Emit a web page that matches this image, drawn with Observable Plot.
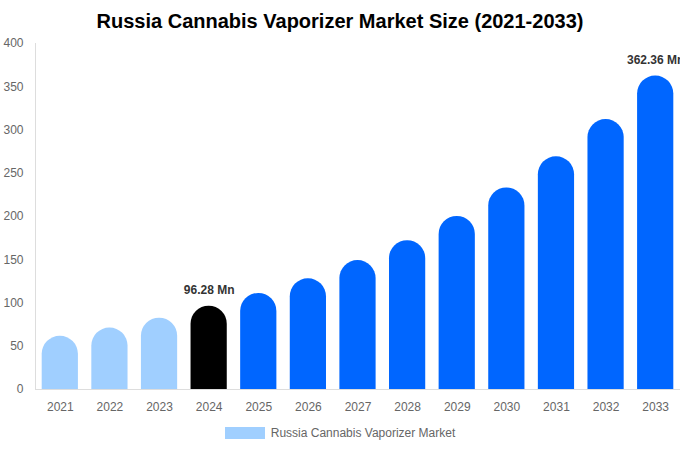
<!DOCTYPE html>
<html>
<head>
<meta charset="utf-8">
<script src="https://cdn.jsdelivr.net/npm/d3@7"></script>
<script src="https://cdn.jsdelivr.net/npm/@observablehq/plot@0.6"></script>
<style>
  html, body { margin: 0; padding: 0; background: #fff; font-family: "Liberation Sans", Arial, sans-serif; }
  #title { width: 680px; height: 30px; padding-top: 6px; line-height: 30px; text-align: center; font-size: 20px; font-weight: bold; color: #000; }
  #chart svg { display: block; overflow: visible; }
  #legend { width: 680px; height: 14px; display: flex; justify-content: center; align-items: center; font-size: 12px; color: #666; }
  #legend .sw { width: 40px; height: 12px; background: #a0cfff; margin-right: 6px; }
</style>
</head>
<body>
<div id="title">Russia Cannabis Vaporizer Market Size (2021-2033)</div>
<div id="chart"></div>
<div id="legend"><span class="sw"></span><span>Russia Cannabis Vaporizer Market</span></div>
<script>
const years = [2021, 2022, 2023, 2024, 2025, 2026, 2027, 2028, 2029, 2030, 2031, 2032, 2033];
const values = [61.5, 71, 82.5, 96.28, 111, 128, 149, 172, 200, 233, 269, 312, 362.36];
const labelledYears = [2024, 2033];
const baseYear = 2024;
const yTicks = [0, 50, 100, 150, 200, 250, 300, 350, 400];

const data = years.map((year, i) => ({year: String(year), y: year, value: values[i]}));
const fillOf = d => d.y < baseYear ? "#a0cfff" : d.y === baseYear ? "#000000" : "#0066ff";

const chart = Plot.plot({
  width: 680,
  height: 390,
  marginTop: 7,
  marginLeft: 35,
  marginRight: 0,
  marginBottom: 37,
  style: {fontFamily: "Liberation Sans, Arial, sans-serif", fontSize: "12px", color: "#666", overflow: "visible"},
  x: {type: "band", domain: years.map(String), paddingInner: 0.27, paddingOuter: 0.135, round: false, label: null},
  y: {domain: [0, 400], label: null},
  marks: [
    // rounded top; bottom corners pushed below the baseline and clipped to the frame
    Plot.rectY(data, {x: "year", y1: -30, y2: "value", fill: fillOf, rx: 18, clip: true}),
    Plot.ruleY([0], {stroke: "#ddd"}),
    Plot.frame({anchor: "left", stroke: "#ddd"}),
    Plot.axisY({ticks: yTicks, tickSize: 0, tickPadding: 12, fill: "#666", fontSize: 12, label: null}),
    Plot.axisX({tickSize: 0, tickPadding: 13, fill: "#666", fontSize: 12, label: null}),
    Plot.text(data.filter(d => labelledYears.includes(d.y)), {
      x: "year", y: "value", text: d => d.value.toFixed(2) + " Mn",
      dy: -16, fill: "#333", fontWeight: "bold", fontSize: 12
    })
  ]
});
document.getElementById("chart").appendChild(chart);
</script>
</body>
</html>
